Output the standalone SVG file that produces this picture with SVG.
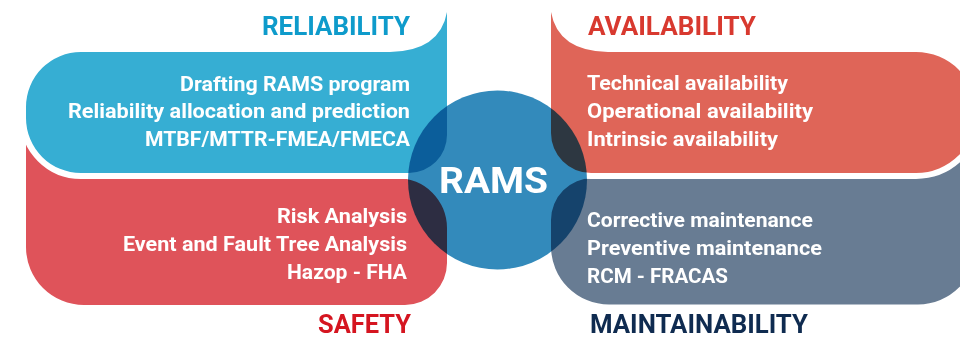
<svg xmlns="http://www.w3.org/2000/svg" width="960" height="338" viewBox="0 0 960 338">
<style>
.body{font-family:Roboto,"Liberation Sans",sans-serif;font-weight:700;font-size:20px;fill:#ffffff}
.title{font-family:Roboto,"Liberation Sans",sans-serif;font-weight:700;font-size:25px}
.top{stroke:#ffffff;stroke-width:12;paint-order:stroke;stroke-linejoin:round}
</style>
<rect width="960" height="338" fill="#ffffff"/>
<g id="safety">
<path d="M26 130 L26 247 A58 58 0 0 0 84 305 L405 305 A42 42 0 0 0 447 263 L447 228 A50 50 0 0 0 397 178 L100 178 L60 130 Z" fill="#DF535A"/>
<text class="body" x="277" y="223" textLength="130" lengthAdjust="spacingAndGlyphs">Risk Analysis</text>
<text class="body" x="123" y="251" textLength="284" lengthAdjust="spacingAndGlyphs">Event and Fault Tree Analysis</text>
<text class="body" x="287" y="279" textLength="120" lengthAdjust="spacingAndGlyphs">Hazop - FHA</text>
<text class="title" x="318" y="333" textLength="93" lengthAdjust="spacingAndGlyphs" fill="#D51520">SAFETY</text>
</g>
<g id="maintainability">
<path d="M551 220 A42 42 0 0 1 593 178 L900 178 L940 130 L976 130 L976 246 A58 58 0 0 1 918 304.5 L609 304.5 A58 58 0 0 1 551 246.5 Z" fill="#687C93"/>
<text class="body" x="587" y="227" textLength="226" lengthAdjust="spacingAndGlyphs">Corrective maintenance</text>
<text class="body" x="587" y="255" textLength="235" lengthAdjust="spacingAndGlyphs">Preventive maintenance</text>
<text class="body" x="587" y="283" textLength="141" lengthAdjust="spacingAndGlyphs">RCM - FRACAS</text>
<text class="title" x="590" y="333" textLength="218" lengthAdjust="spacingAndGlyphs" fill="#0F2B50">MAINTAINABILITY</text>
</g>
<g id="reliability">
<path class="top" d="M447 12 Q440 51 390 52 L81 52 A55 55 0 0 0 26 107 L26 118 A55 55 0 0 0 81 173 L409 173 A38 38 0 0 0 447 135 Z" fill="#36AED3"/>
<text class="body" x="180" y="91" textLength="230" lengthAdjust="spacingAndGlyphs">Drafting RAMS program</text>
<text class="body" x="68" y="118" textLength="342" lengthAdjust="spacingAndGlyphs">Reliability allocation and prediction</text>
<text class="body" x="145" y="146" textLength="265" lengthAdjust="spacingAndGlyphs">MTBF/MTTR-FMEA/FMECA</text>
<text class="title" x="262" y="35" textLength="148" lengthAdjust="spacingAndGlyphs" fill="#0E9BCB">RELIABILITY</text>
</g>
<g id="availability">
<path class="top" d="M551 12 Q558 51 608 52 L916 52 A60.5 60.5 0 0 1 916 173 L591 173 A40 40 0 0 1 551 133 Z" fill="#DF6558"/>
<text class="body" x="587" y="90" textLength="201" lengthAdjust="spacingAndGlyphs">Technical availability</text>
<text class="body" x="587" y="118" textLength="226" lengthAdjust="spacingAndGlyphs">Operational availability</text>
<text class="body" x="587" y="146" textLength="191" lengthAdjust="spacingAndGlyphs">Intrinsic availability</text>
<text class="title" x="588" y="35" textLength="168" lengthAdjust="spacingAndGlyphs" fill="#D8392F">AVAILABILITY</text>
</g>
<g id="rams">
<circle cx="497.5" cy="180" r="89.5" fill="#338ABB" style="mix-blend-mode:multiply"/>
<text x="439" y="193" textLength="109" lengthAdjust="spacingAndGlyphs" font-family="Roboto,'Liberation Sans',sans-serif" font-weight="700" font-size="36" fill="#ffffff">RAMS</text>
</g>
<g id="connectors"/>
</svg>
